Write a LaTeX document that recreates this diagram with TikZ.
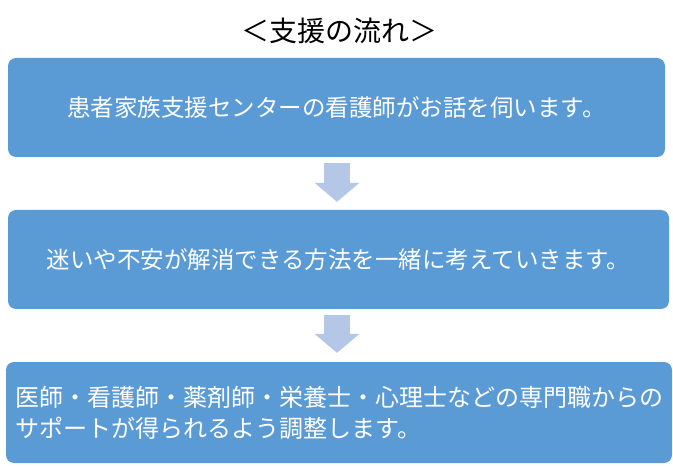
\documentclass[tikz,border=0pt]{standalone}
\usepackage{fontspec}
\newfontfamily\jpfont{Noto Sans CJK JP}
\usetikzlibrary{arrows.meta}
\definecolor{boxblue}{RGB}{91,155,213}
\definecolor{arrowblue}{RGB}{180,199,231}
\begin{document}
\begin{tikzpicture}[x=1pt,y=-1pt]
	\tikzset{every node/.style={font=\jpfont},
		stepbox/.style={fill=boxblue,rounded corners=8pt,inner sep=0pt,text=white,font=\jpfont\fontsize{23.5}{31}\selectfont},
		flow/.style={draw=arrowblue,line width=26pt,-{Triangle[width=45pt,length=19pt,line width=0pt]}}}
	\useasboundingbox (0,0) rectangle (673,468);
	\node (title) at (339,31) {\fontsize{28}{30}\selectfont ＜支援の流れ＞};
	\node[stepbox,minimum width=657pt,minimum height=99pt] (talk) at (336.5,107.5) {患者家族支援センターの看護師がお話を伺います。};
	\node[stepbox,minimum width=661pt,minimum height=99pt] (ideas) at (338.5,259.5) {迷いや不安が解消できる方法を一緒に考えていきます。};
	\node[stepbox,minimum width=666pt,minimum height=101pt,text width=647pt,inner xsep=9.5pt,align=left,font=\jpfont\fontsize{24}{31}\selectfont] (team) at (339,412.5) {医師・看護師・薬剤師・栄養士・心理士などの専門職からの\\サポートが得られるよう調整します。};
	\coordinate (mid) at (337,0);
	\draw[flow,shorten <=6pt,shorten >=8pt] (talk.south -| mid) -- (ideas.north -| mid);
	\draw[flow,shorten <=6pt,shorten >=9pt] (ideas.south -| mid) -- (team.north -| mid);
\end{tikzpicture}
\end{document}
